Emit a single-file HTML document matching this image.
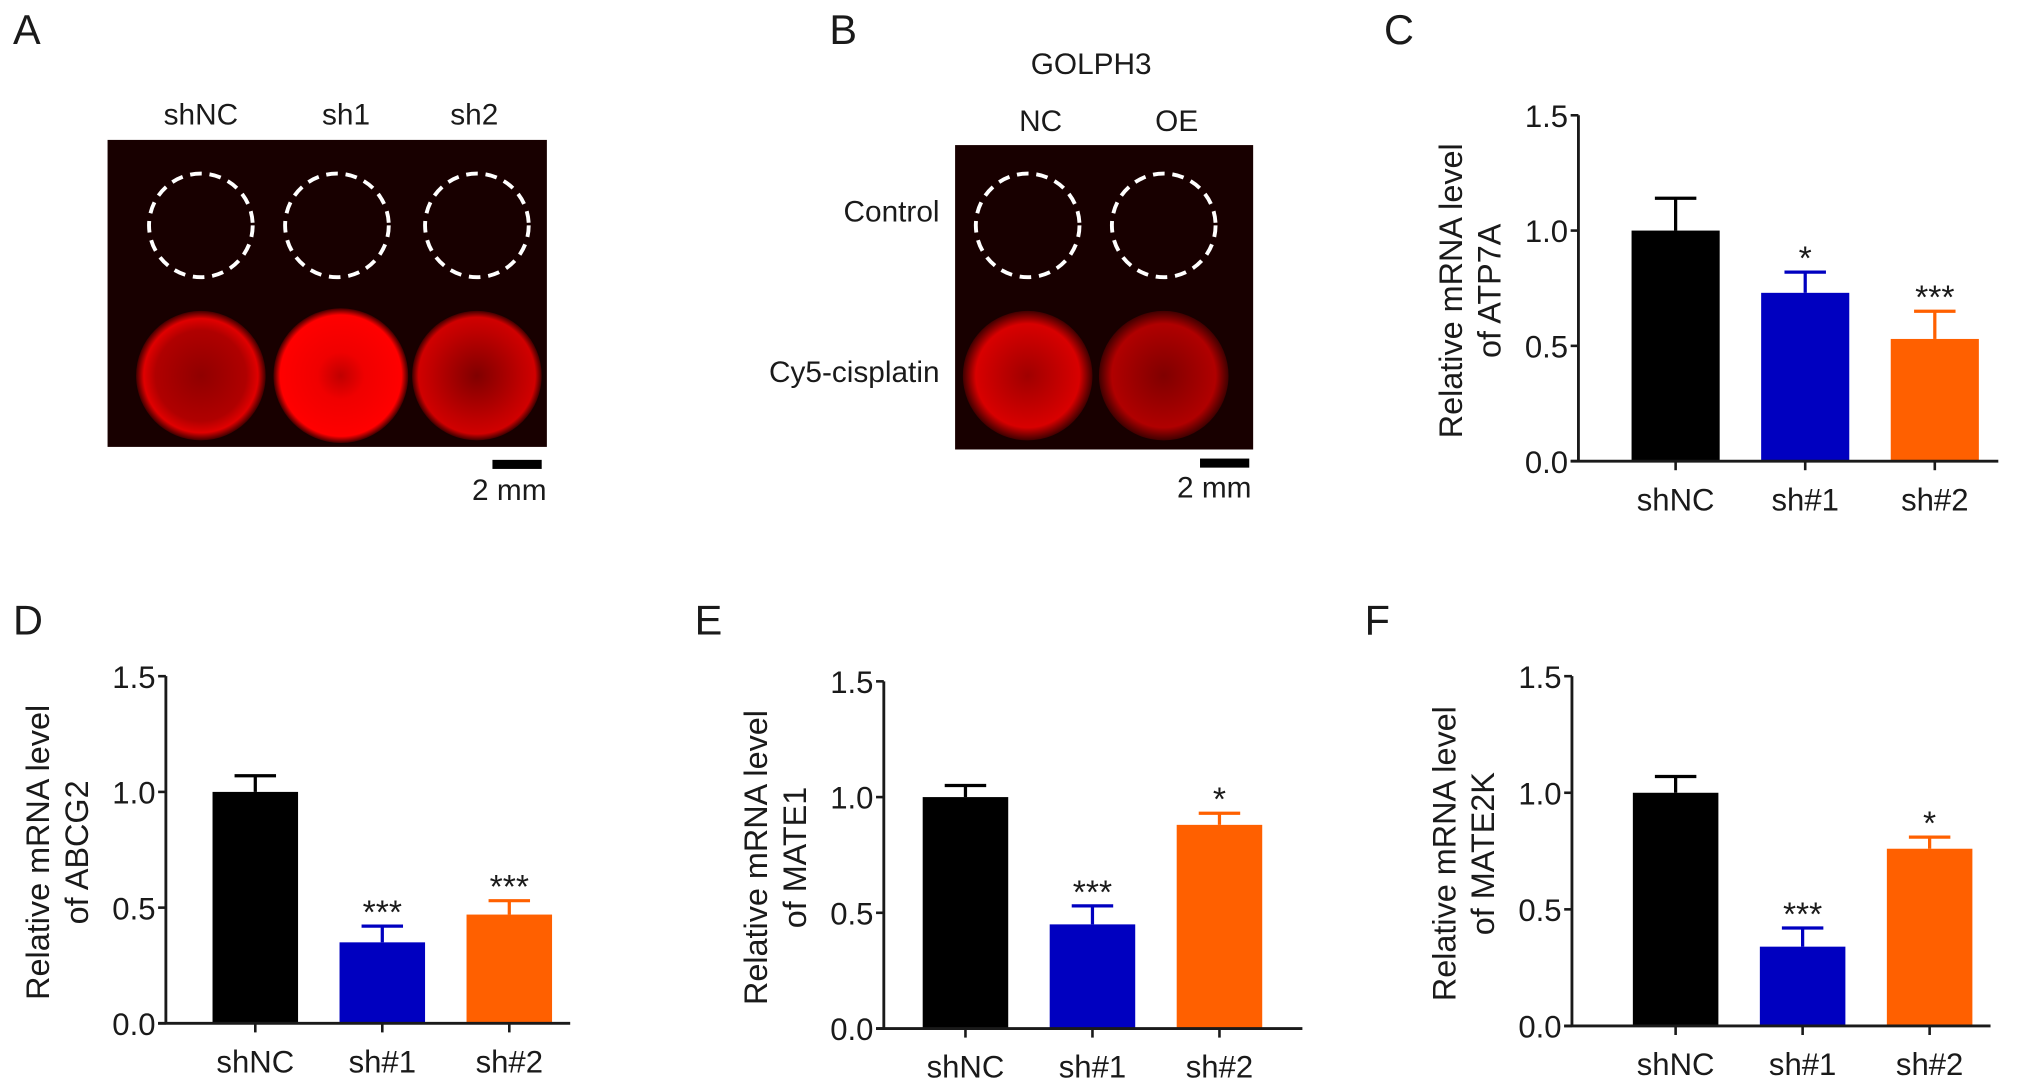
<!DOCTYPE html>
<html><head><meta charset="utf-8">
<style>
html,body{margin:0;padding:0;background:#fff;}
svg{display:block;}
text{font-family:"Liberation Sans",Arial,sans-serif;fill:#1a1a1a;}
</style></head>
<body>
<svg id="fig" width="2032" height="1092" viewBox="0 0 1568 843" preserveAspectRatio="none" xmlns="http://www.w3.org/2000/svg">
<defs>
<radialGradient id="gNC" cx="0.5" cy="0.5" r="0.5"><stop offset="0" stop-color="#900000"/><stop offset="0.7" stop-color="#b00000"/><stop offset="0.88" stop-color="#e00000"/><stop offset="1" stop-color="#400000"/></radialGradient>
<radialGradient id="gS1" cx="0.5" cy="0.5" r="0.5"><stop offset="0" stop-color="#c00000"/><stop offset="0.35" stop-color="#f00000"/><stop offset="0.9" stop-color="#ff0000"/><stop offset="1" stop-color="#400000"/></radialGradient>
<radialGradient id="gS2" cx="0.5" cy="0.5" r="0.5"><stop offset="0" stop-color="#800000"/><stop offset="0.7" stop-color="#c00000"/><stop offset="0.9" stop-color="#d00000"/><stop offset="1" stop-color="#400000"/></radialGradient>
<radialGradient id="gB1" cx="0.5" cy="0.5" r="0.5"><stop offset="0" stop-color="#a00000"/><stop offset="0.8" stop-color="#d80000"/><stop offset="1" stop-color="#400000"/></radialGradient>
<radialGradient id="gB2" cx="0.5" cy="0.5" r="0.5"><stop offset="0" stop-color="#800000"/><stop offset="0.8" stop-color="#b00000"/><stop offset="1" stop-color="#400000"/></radialGradient>
</defs>

<g>
<text x="10" y="34" font-size="32">A</text>
<text x="155" y="96" font-size="23" text-anchor="middle">shNC</text>
<text x="267" y="96" font-size="23" text-anchor="middle">sh1</text>
<text x="366" y="96" font-size="23" text-anchor="middle">sh2</text>
<rect x="83" y="108" width="339" height="237" fill="#180000"/>
<circle cx="155" cy="290" r="50" fill="url(#gNC)"/>
<circle cx="263" cy="290" r="52" fill="url(#gS1)"/>
<circle cx="368" cy="290" r="50" fill="url(#gS2)"/>
<g fill="none" stroke="#fff" stroke-width="3" stroke-dasharray="9 6">
<ellipse cx="155" cy="174" rx="40" ry="40"/>
<ellipse cx="260" cy="174" rx="40" ry="40"/>
<ellipse cx="368" cy="174" rx="40" ry="40"/>
</g>
<rect x="380" y="355" width="38" height="7" fill="#000"/>
<text x="393" y="386" font-size="23" text-anchor="middle">2 mm</text>
</g>

<g>
<text x="640" y="34" font-size="32">B</text>
<text x="842" y="57" font-size="23" text-anchor="middle">GOLPH3</text>
<text x="803" y="101" font-size="23" text-anchor="middle">NC</text>
<text x="908" y="101" font-size="23" text-anchor="middle">OE</text>
<text x="725" y="171" font-size="23" text-anchor="end">Control</text>
<text x="725" y="295" font-size="23" text-anchor="end">Cy5-cisplatin</text>
<rect x="737" y="112" width="230" height="235" fill="#180000"/>
<circle cx="793" cy="290" r="50" fill="url(#gB1)"/>
<circle cx="898" cy="290" r="50" fill="url(#gB2)"/>
<g fill="none" stroke="#fff" stroke-width="3" stroke-dasharray="9 6">
<ellipse cx="793" cy="174" rx="40" ry="40"/>
<ellipse cx="898" cy="174" rx="40" ry="40"/>
</g>
<rect x="926" y="354" width="38" height="7" fill="#000"/>
<text x="937" y="384" font-size="23" text-anchor="middle">2 mm</text>
</g>

<g id="charts"></g>
</svg>
<script>
const categories = ["shNC", "sh#1", "sh#2"];
const colors = ["#000000", "#0000c0", "#ff6000"];
const yTicks = [0.0, 0.5, 1.0, 1.5];
const yTickLabels = ["0.0", "0.5", "1.0", "1.5"];
const valuesC = [1.0, 0.73, 0.53];
const errorsC = [0.14, 0.09, 0.12];
const sigC = ["", "*", "***"];
const valuesD = [1.0, 0.35, 0.47];
const errorsD = [0.07, 0.07, 0.06];
const sigD = ["", "***", "***"];
const valuesE = [1.0, 0.45, 0.88];
const errorsE = [0.05, 0.08, 0.05];
const sigE = ["", "***", "*"];
const valuesF = [1.0, 0.34, 0.76];
const errorsF = [0.07, 0.08, 0.05];
const sigF = ["", "***", "*"];

const NS = "http://www.w3.org/2000/svg";
const root = document.getElementById("charts");
function mk(tag, attrs, parent) {
  const e = document.createElementNS(NS, tag);
  for (const k in attrs) e.setAttribute(k, attrs[k]);
  parent.appendChild(e);
  return e;
}
function chart(cfg, values, errors, sig) {
  const g = mk("g", {}, root);
  
  
  const yScale = v => cfg.y0 - (v / 1.5) * (cfg.y0 - cfg.y15);
  const xScale = i => cfg.x0 + cfg.first + i * cfg.step;
  const lbl = mk("text", {x: cfg.letterX, y: cfg.letterY, "font-size": 32}, g);
  lbl.textContent = cfg.id.toUpperCase();
  
  
  const tx = cfg.x0 - 90, ty = (cfg.y0 + cfg.y15) / 2 + 2;
  const t = mk("text", {"font-size": 25, "text-anchor": "middle", transform: `translate(${tx},${ty}) rotate(-90)`}, g);
  
  
  const t1 = mk("tspan", {x: 0, y: 0}, t); t1.textContent = "Relative mRNA level";
  const t2 = mk("tspan", {x: 0, y: 30}, t); t2.textContent = "of " + cfg.gene;
  values.forEach((v, i) => {
    const cx = xScale(i), w = cfg.bw;
    const top = yScale(v), et = yScale(v + errors[i]);
    const eb = mk("line", {x1: cx, x2: cx, y1: top, y2: et, stroke: colors[i], "stroke-width": 2.5}, g);
    
    
    const cap = mk("line", {x1: cx - 16, x2: cx + 16, y1: et, y2: et, stroke: colors[i], "stroke-width": 2.5}, g);
    
    
    const r = mk("rect", {x: cx - w / 2, y: top, width: w, height: cfg.y0 - top, fill: colors[i]}, g);
    
    
    if (sig[i]) {
      const s = mk("text", {x: cx, y: et - 2, "font-size": 26, "text-anchor": "middle"}, g);
      s.textContent = sig[i];
      
      
    }
    const tk = mk("line", {x1: cx, x2: cx, y1: cfg.y0, y2: cfg.y0 + 7, stroke: "#1a1a1a", "stroke-width": 2}, g);
    
    
    const xl = mk("text", {x: cx, y: cfg.y0 + 38, "font-size": 24, "text-anchor": "middle"}, g);
    xl.textContent = categories[i];
    
    
  });
  const ya = mk("line", {x1: cfg.x0, x2: cfg.x0, y1: cfg.y15, y2: cfg.y0, stroke: "#1a1a1a", "stroke-width": 2.2}, g);
  
  
  const xa = mk("line", {x1: cfg.x0 - 6, x2: cfg.xEnd, y1: cfg.y0, y2: cfg.y0, stroke: "#1a1a1a", "stroke-width": 2.2}, g);
  
  
  yTicks.forEach((v, i) => {
    const y = yScale(v);
    const tk = mk("line", {x1: cfg.x0 - 6, x2: cfg.x0, y1: y, y2: y, stroke: "#1a1a1a", "stroke-width": 2}, g);
    
    
    const tl = mk("text", {x: cfg.x0 - 8, y: y + 9, "font-size": 24, "text-anchor": "end"}, g);
    tl.textContent = yTickLabels[i];
    
    
  });
}
chart({id: "c", gene: "ATP7A", x0: 1218, y0: 356, y15: 89, first: 75, step: 100, bw: 68, xEnd: 1542, letterX: 1068, letterY: 34}, valuesC, errorsC, sigC);
chart({id: "d", gene: "ABCG2", x0: 128, y0: 790, y15: 522, first: 69, step: 98, bw: 66, xEnd: 440, letterX: 10, letterY: 490}, valuesD, errorsD, sigD);
chart({id: "e", gene: "MATE1", x0: 682, y0: 794, y15: 526, first: 63, step: 98, bw: 66, xEnd: 1005, letterX: 536, letterY: 490}, valuesE, errorsE, sigE);
chart({id: "f", gene: "MATE2K", x0: 1213, y0: 792, y15: 522, first: 80, step: 98, bw: 66, xEnd: 1536, letterX: 1053, letterY: 490}, valuesF, errorsF, sigF);
</script>
</body></html>
